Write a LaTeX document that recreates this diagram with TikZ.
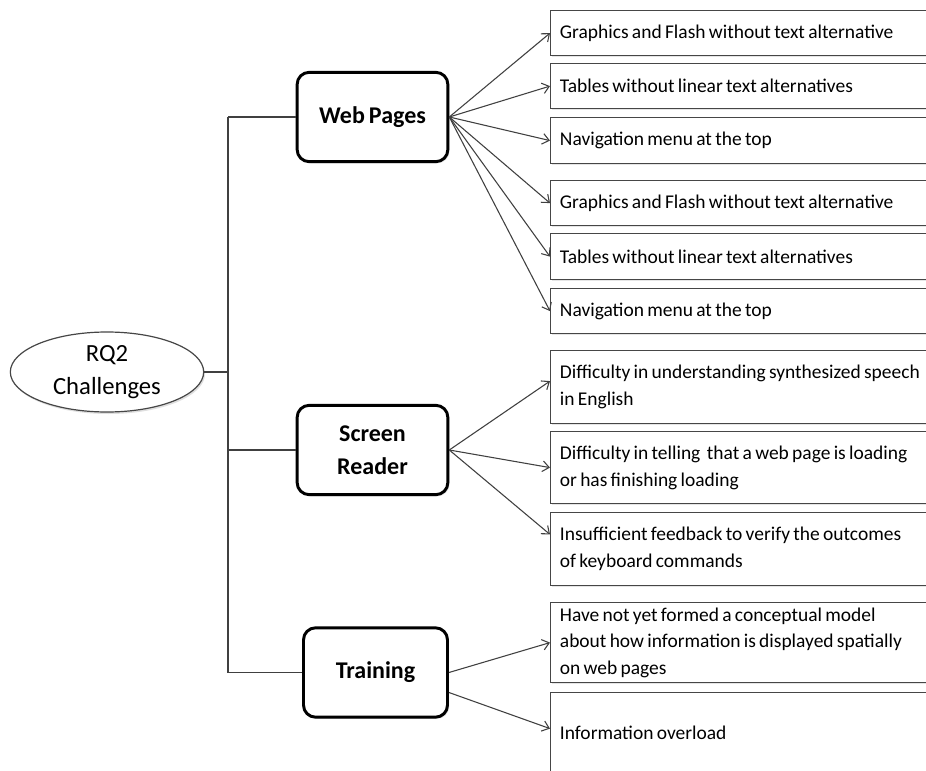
\documentclass[tikz,border=0pt]{standalone}
\usepackage{fontspec}
\setmainfont{Carlito}[WordSpace=0.75]
\usepackage{tikz}
\usetikzlibrary{arrows.meta,shadows,shapes.geometric}
\definecolor{lnk}{RGB}{64,64,64}
\definecolor{edg}{RGB}{70,70,70}

\begin{document}
\begin{tikzpicture}[x=0.75pt,y=-0.75pt,
  topic/.style={draw=black,line width=2.2pt,rounded corners=9pt,fill=white,
    minimum width=113pt,minimum height=67pt,align=center,
    font=\fontsize{18}{25}\selectfont\bfseries,
    drop shadow={opacity=0.25,shadow xshift=1.2pt,shadow yshift=-1.2pt}},
  leaf/.style={draw=edg,line width=0.9pt,fill=white,anchor=north west,
    text width=290pt,inner xsep=7pt,align=flush left,
    font=\fontsize{14.6}{20}\selectfont,
    drop shadow={opacity=0.2,shadow xshift=1pt,shadow yshift=-1pt}},
  link/.style={draw=lnk,line width=0.8pt,-{Straight Barb[length=5pt,width=8pt]}},
  trunk/.style={draw=lnk,line width=0.8pt}]
  \useasboundingbox[fill=white] (0,0) rectangle (926,771);
  % root
  \node[ellipse,draw=edg,line width=0.9pt,fill=white,minimum width=145pt,minimum height=60pt,
    align=center,font=\fontsize{18.5}{25}\selectfont,inner sep=1pt,
    drop shadow={opacity=0.25,shadow xshift=1pt,shadow yshift=-1.5pt}] (rq) at (107,372) {RQ2\\Challenges};
  % categories
  \node[topic] (web) at (372.5,117) {Web Pages};
  \node[topic] (scr) at (372.5,450) {Screen\\Reader};
  \node[topic,minimum width=108pt] (trn) at (375.5,672.5) {Training};
  % leaves
  \node[leaf,minimum height=33.75pt] (l1) at (550,10) {Graphics and Flash without text alternative};
  \node[leaf,minimum height=33.75pt] (l2) at (550,63) {Tables without linear text alternatives};
  \node[leaf,minimum height=34.5pt] (l3) at (550,117) {Navigation menu at the top};
  \node[leaf,minimum height=33.75pt] (l4) at (550,180) {Graphics and Flash without text alternative};
  \node[leaf,minimum height=34.5pt] (l5) at (550,233) {Tables without linear text alternatives};
  \node[leaf,minimum height=33.75pt] (l6) at (550,288) {Navigation menu at the top};
  \node[leaf,minimum height=54.75pt] (l7) at (550,350) {Difficulty in understanding synthesized speech\\in English};
  \node[leaf,minimum height=54pt] (l8) at (550,431) {Difficulty in telling\, that a web page is loading\\or has finishing loading};
  \node[leaf,minimum height=54.75pt] (l9) at (550,512) {Insufficient feedback to verify the outcomes\\of keyboard commands};
  \node[leaf,minimum height=60pt] (l10) at (550,602) {Have not yet formed a conceptual model\\about how information is displayed spatially\\on web pages};
  \node[leaf,minimum height=60pt] (l11) at (550,692) {Information overload};
  % tree lines
  \coordinate (ta) at (228,117);
  \coordinate (tb) at (228,672.5);
  \draw[trunk] (ta) -- (tb);
  \draw[trunk] (rq.east) -- (rq.east -| ta);
  \draw[trunk] (ta) -- (web.west);
  \draw[trunk] (scr.west -| ta) -- (scr.west);
  \draw[trunk] (tb) -- (trn.west);
  % arrows
  \draw[link] (web.east) -- (l1.west);
  \draw[link] (web.east) -- (l2.west);
  \draw[link] (web.east) -- (l3.west);
  \draw[link] (web.east) -- (l4.west);
  \draw[link] (web.east) -- (l5.west);
  \draw[link] (web.east) -- (l6.west);
  \draw[link] (scr.east) -- ([yshift=4.5pt]l7.west);
  \draw[link] (scr.east) -- (l8.west);
  \draw[link] (scr.east) -- ([yshift=11pt]l9.west);
  \draw[link] (trn.east) -- (l10.west);
  \draw[link] ([yshift=-15pt]trn.east) -- ([yshift=3pt]l11.west);
\end{tikzpicture}
\end{document}
